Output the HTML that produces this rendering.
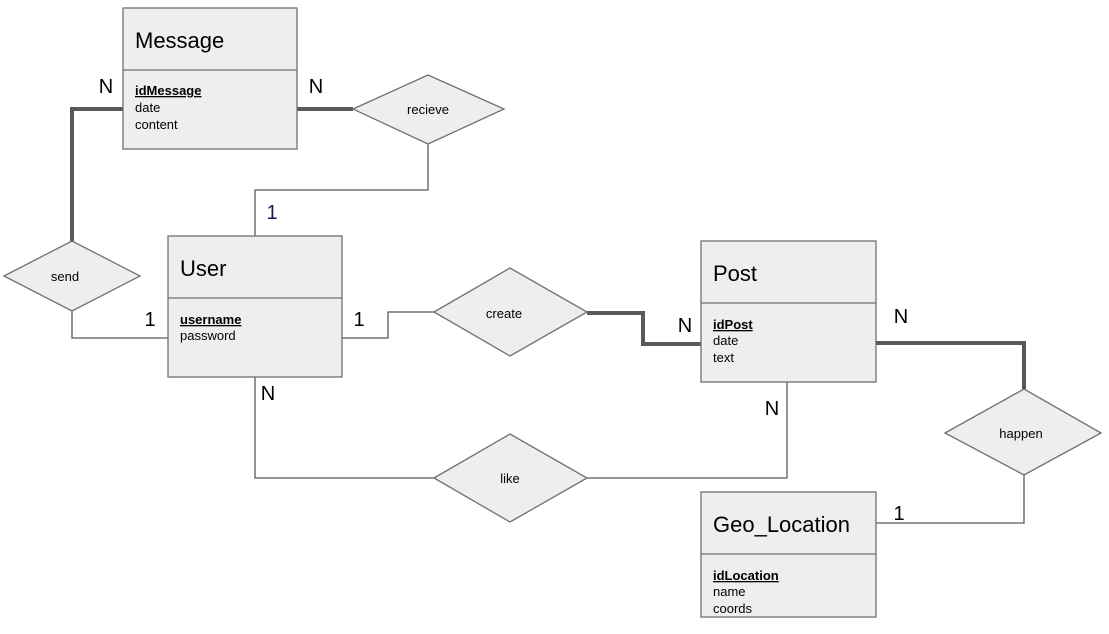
<!DOCTYPE html>
<html><head><style>
body{margin:0;background:#fff}
svg text{font-family:"Liberation Sans",Arial,sans-serif}
</style></head><body>
<svg width="1109" height="629" viewBox="0 0 1109 629" xmlns="http://www.w3.org/2000/svg">
<g fill="none" stroke="#595959">
<path d="M123,109 H72 V241" stroke-width="4"/>
<path d="M297,109 H353" stroke-width="4"/>
<path d="M587,313 H643 V344 H701" stroke-width="4"/>
<path d="M876,343 H1024 V389" stroke-width="4"/>
<path d="M72,311 V338 H168" stroke-width="1.3"/>
<path d="M428,144 V190 H255 V236" stroke-width="1.3"/>
<path d="M342,338 H388 V312 H434" stroke-width="1.3"/>
<path d="M255,377 V478 H434" stroke-width="1.3"/>
<path d="M587,478 H787 V382" stroke-width="1.3"/>
<path d="M1024,475 V523 H876" stroke-width="1.3"/>
</g>
<g fill="#eeeeee" stroke="#707070" stroke-width="1.3">
<rect x="123" y="8" width="174" height="141"/><line x1="123" y1="70" x2="297" y2="70"/>
<rect x="168" y="236" width="174" height="141"/><line x1="168" y1="298" x2="342" y2="298"/>
<rect x="701" y="241" width="175" height="141"/><line x1="701" y1="303" x2="876" y2="303"/>
<rect x="701" y="492" width="175" height="125"/><line x1="701" y1="554" x2="876" y2="554"/>
<polygon points="353,109 428,75 504,109 428,144"/>
<polygon points="4,276 72,241 140,276 72,311"/>
<polygon points="434,312 510,268 587,312 510,356"/>
<polygon points="434,478 510,434 587,478 510,522"/>
<polygon points="945,433 1024,389 1101,433 1024,475"/>
</g>
<g fill="#000" font-size="22">
<text x="135" y="48">Message</text>
<text x="180" y="276">User</text>
<text x="713" y="281">Post</text>
<text x="713" y="532">Geo_Location</text>
</g>
<g fill="#000" font-size="13">
<text x="135" y="95" font-weight="bold" text-decoration="underline">idMessage</text>
<text x="135" y="112">date</text><text x="135" y="129">content</text>
<text x="180" y="324" font-weight="bold" text-decoration="underline">username</text>
<text x="180" y="340">password</text>
<text x="713" y="329" font-weight="bold" text-decoration="underline">idPost</text>
<text x="713" y="345">date</text><text x="713" y="362">text</text>
<text x="713" y="580" font-weight="bold" text-decoration="underline">idLocation</text>
<text x="713" y="596">name</text><text x="713" y="613">coords</text>
<text x="428" y="114" text-anchor="middle">recieve</text>
<text x="65" y="281" text-anchor="middle">send</text>
<text x="504" y="318" text-anchor="middle">create</text>
<text x="510" y="483" text-anchor="middle">like</text>
<text x="1021" y="438" text-anchor="middle">happen</text>
</g>
<g font-size="20" text-anchor="middle">
<text x="106" y="93" fill="#000">N</text>
<text x="316" y="93" fill="#000">N</text>
<text x="272" y="219" fill="#1a1a5a">1</text>
<text x="150" y="326" fill="#000">1</text>
<text x="359" y="326" fill="#000">1</text>
<text x="685" y="332" fill="#000">N</text>
<text x="268" y="400" fill="#000">N</text>
<text x="772" y="415" fill="#000">N</text>
<text x="901" y="323" fill="#000">N</text>
<text x="899" y="520" fill="#000">1</text>
</g>
</svg>
</body></html>
